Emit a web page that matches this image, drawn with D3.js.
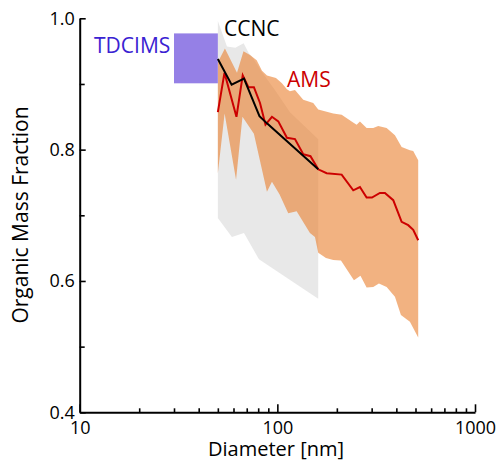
<!DOCTYPE html>
<html>
<head>
<meta charset="utf-8">
<script src="https://cdn.jsdelivr.net/npm/d3@7"></script>
<style>
  body { margin: 0; background: #fff; }
  svg text { font-family: "Open Sans", sans-serif; }
</style>
</head>
<body>
<div id="vis"></div>
<script>
// AMS band edges and line (diameter nm, organic fraction)
const amsUpper = [[50, 0.933], [54.3, 0.954], [62.5, 0.917], [67.4, 0.950], [72.7, 0.944], [78.6, 0.936],
  [83.6, 0.920], [88.6, 0.913], [98.4, 0.909], [105.5, 0.901], [111.8, 0.892], [115.8, 0.889],
  [122.8, 0.891], [135.2, 0.876], [151.9, 0.871], [161, 0.861], [191.8, 0.855], [211.5, 0.853],
  [237.6, 0.843], [251.8, 0.838], [261.7, 0.843], [282.9, 0.833], [305.6, 0.833], [323.9, 0.836],
  [357.2, 0.833], [393.5, 0.822], [425.4, 0.804], [468.5, 0.799], [486.9, 0.798], [516, 0.784]];
const amsLower = [[50, 0.764], [54.1, 0.855], [61.8, 0.754], [66.6, 0.850], [76.1, 0.824], [88.6, 0.736],
  [93.9, 0.751], [102.5, 0.732], [113.5, 0.703], [125.2, 0.706], [146.2, 0.673], [155, 0.667],
  [161, 0.643], [176.2, 0.635], [191.8, 0.632], [209.8, 0.631], [244.1, 0.601], [263.3, 0.608],
  [282.9, 0.590], [305.6, 0.591], [326.5, 0.596], [357.2, 0.591], [393.5, 0.576], [421.9, 0.548],
  [468.5, 0.538], [516, 0.514]];
const amsLine = [[50, 0.857], [54, 0.917], [62.1, 0.850], [66.8, 0.913], [71.4, 0.895], [76.1, 0.895],
  [81.7, 0.871], [87.1, 0.838], [93.9, 0.850], [101.1, 0.843], [111.8, 0.818], [122.8, 0.816],
  [135.2, 0.793], [147.1, 0.790], [161, 0.770], [177.6, 0.764], [211.5, 0.762], [242.1, 0.738],
  [261.7, 0.743], [282.9, 0.727], [301, 0.727], [330.3, 0.734], [350.2, 0.734], [385.8, 0.723],
  [425.4, 0.690], [459.3, 0.685], [486.9, 0.678], [516, 0.662]];

// CCNC band edges and line
const ccncUpper = [[50, 0.996], [55.6, 0.957], [61.3, 0.955], [67.5, 0.962], [71.6, 0.947], [75.3, 0.939],
  [83.6, 0.918], [97.2, 0.891], [115.8, 0.857], [161, 0.816]];
const ccncLower = [[50, 0.696], [58.9, 0.667], [67.8, 0.673], [80.7, 0.633], [161, 0.573]];
const ccncLine = [[50, 0.938], [58.7, 0.899], [67.8, 0.908], [81.2, 0.851], [88.6, 0.840], [161, 0.770]];

// TDCIMS box: diameter range and fraction range
const tdcimsD = [30, 50];
const tdcimsF = [0.901, 0.977];

const xMajor = [10, 100, 1000];
const xMinor = [20, 30, 40, 50, 60, 70, 80, 90, 200, 300, 400, 500, 600, 700, 800, 900];
const yMajor = [0.4, 0.6, 0.8, 1.0];
const yMinor = [0.5, 0.7, 0.9];

const width = 504, height = 462;

const svg = d3.select('#vis')
  .append('svg')
  .attr('width', width)
  .attr('height', height);

const x = d3.scaleLog().domain([10, 1000]).range([79.7, 475]);
const y = d3.scaleLinear().domain([0.4, 1.0]).range([412.3, 18.3]);

const line = d3.line().x(d => x(d[0])).y(d => y(d[1]));

function band(upper, lower) {
  return line(upper.concat(lower.slice().reverse())) + 'Z';
}

svg.append('path')
  .attr('d', band(ccncUpper, ccncLower))
  .attr('fill', '#e8e8e8');

svg.append('path')
  .attr('d', band(amsUpper, amsLower))
  .attr('fill', 'rgb(233,127,45)')
  .attr('fill-opacity', 0.6);

svg.append('rect')
  .attr('x', x(tdcimsD[0]))
  .attr('y', y(tdcimsF[1]))
  .attr('width', x(tdcimsD[1]) - x(tdcimsD[0]))
  .attr('height', y(tdcimsF[0]) - y(tdcimsF[1]))
  .attr('fill', '#9580e6');

svg.append('path')
  .attr('d', line(amsLine))
  .attr('fill', 'none')
  .attr('stroke', '#cc0000')
  .attr('stroke-width', 2);

svg.append('path')
  .attr('d', line(ccncLine))
  .attr('fill', 'none')
  .attr('stroke', '#000')
  .attr('stroke-width', 2);

// labels
svg.append('text').attr('x', 94).attr('y', 53).attr('font-size', 21).attr('fill', '#3a22d2').text('TDCIMS');
svg.append('text').attr('x', 224).attr('y', 36).attr('font-size', 21).attr('fill', '#000').text('CCNC');
svg.append('text').attr('x', 287).attr('y', 87).attr('font-size', 21).attr('fill', '#cc0000').text('AMS');

// axes
svg.append('g')
  .attr('transform', `translate(0,${y(0.4)})`)
  .call(d3.axisBottom(x).tickValues(xMajor).tickFormat(d3.format('d'))
    .tickSizeInner(-8).tickSizeOuter(0).tickPadding(9));
svg.append('g')
  .attr('transform', `translate(0,${y(0.4)})`)
  .call(d3.axisBottom(x).tickValues(xMinor).tickFormat('')
    .tickSizeInner(-4).tickSizeOuter(0))
  .select('.domain').remove();

svg.append('g')
  .attr('transform', `translate(${x(10)},0)`)
  .call(d3.axisLeft(y).tickValues(yMajor).tickFormat(d3.format('.1f'))
    .tickSizeInner(-6).tickSizeOuter(0).tickPadding(5));
svg.append('g')
  .attr('transform', `translate(${x(10)},0)`)
  .call(d3.axisLeft(y).tickValues(yMinor).tickFormat('')
    .tickSizeInner(-5).tickSizeOuter(0))
  .select('.domain').remove();

svg.selectAll('.domain').attr('stroke-width', 2);
svg.selectAll('.tick line').attr('stroke-width', 1.6);
svg.selectAll('.tick text')
  .attr('font-family', '"Open Sans", sans-serif')
  .attr('font-size', 18)
  .attr('fill', '#000');

svg.append('text')
  .attr('x', 276).attr('y', 456)
  .attr('text-anchor', 'middle')
  .attr('font-size', 20)
  .text('Diameter [nm]');

svg.append('text')
  .attr('transform', 'translate(28,215) rotate(-90)')
  .attr('text-anchor', 'middle')
  .attr('font-size', 21)
  .text('Organic Mass Fraction');
</script>
</body>
</html>
